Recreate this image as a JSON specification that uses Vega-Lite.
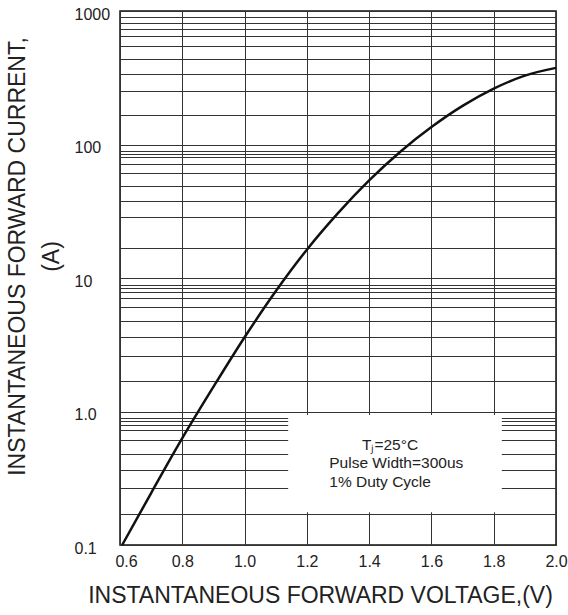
{
  "$schema": "https://vega.github.io/schema/vega-lite/v6.json",
  "width": 436,
  "height": 534,
  "autosize": {"type": "none"},
  "padding": {"left": 120, "top": 11, "right": 12, "bottom": 70},
  "background": "white",
  "layer": [
    {
      "data": {"values": [{"note": "test conditions"}]},
      "mark": {"type": "rect", "fill": "white", "stroke": null},
      "encoding": {
        "x": {"datum": 1.14, "type": "quantitative"},
        "x2": {"datum": 1.826},
        "y": {"datum": 0.176, "type": "quantitative"},
        "y2": {"datum": 0.94}
      }
    },
    {
      "data": {
        "values": [
          {"voltage": 0.607, "current": 0.1},
          {"voltage": 0.7, "current": 0.245},
          {"voltage": 0.8, "current": 0.631},
          {"voltage": 0.9, "current": 1.53},
          {"voltage": 1.0, "current": 3.6},
          {"voltage": 1.1, "current": 7.96},
          {"voltage": 1.2, "current": 16.3},
          {"voltage": 1.3, "current": 30.6},
          {"voltage": 1.4, "current": 53.8},
          {"voltage": 1.5, "current": 88.3},
          {"voltage": 1.6, "current": 135},
          {"voltage": 1.7, "current": 194.5},
          {"voltage": 1.8, "current": 262},
          {"voltage": 1.9, "current": 328},
          {"voltage": 2.0, "current": 375}
        ]
      },
      "mark": {"type": "line", "interpolate": "monotone", "color": "#111", "strokeWidth": 2.5},
      "encoding": {
        "x": {
          "field": "voltage",
          "type": "quantitative",
          "scale": {"domain": [0.6, 2.0], "nice": false, "zero": false},
          "axis": {
            "values": [0.6, 0.8, 1.0, 1.2, 1.4, 1.6, 1.8, 2.0],
            "format": ".1f",
            "labelFlush": false,
            "labelOffset": {"condition": {"test": "datum.value < 0.65", "value": 6}, "value": 0},
            "title": "INSTANTANEOUS FORWARD VOLTAGE,(V)",
            "titleX": 200,
            "titleY": 57,
            "titleAlign": "center",
            "titleBaseline": "alphabetic"
          }
        },
        "y": {
          "field": "current",
          "type": "quantitative",
          "scale": {"type": "log", "domain": [0.1, 1000], "nice": false},
          "axis": {
            "values": [
              0.1, 0.172, 0.268, 0.366, 0.478, 0.612, 0.723, 0.798, 0.853, 0.9,
              1, 1.69, 2.6, 3.61, 4.76, 6.04, 7.1, 7.89, 8.38, 8.87,
              10, 16.7, 28.5, 37.9, 49, 61.2, 71.1, 80, 84.5, 89.3,
              100, 166.7, 251, 340, 437.5, 551, 653, 730, 807, 904, 1000
            ],
            "labelExpr": "datum.value == 0.1 ? '0.1' : datum.value == 1 ? '1.0' : datum.value == 10 ? '10' : datum.value == 100 ? '100' : datum.value == 1000 ? '1000' : ''",
            "labelAlign": "left",
            "labelBaseline": "middle",
            "labelPadding": 46,
            "labelOffset": 3,
            "title": ["INSTANTANEOUS FORWARD CURRENT,", "(A)"],
            "titleX": -114,
            "titleY": 245,
            "titleAlign": "center",
            "titleBaseline": "top",
            "titleLineHeight": 34
          }
        }
      }
    },
    {
      "data": {"values": [{"note": "Tⱼ=25°C"}]},
      "mark": {"type": "text", "align": "center", "baseline": "middle", "fontSize": 15.5, "fontWeight": 400, "color": "#222"},
      "encoding": {
        "x": {"datum": 1.467, "type": "quantitative"},
        "y": {"datum": 0.561, "type": "quantitative"},
        "text": {"field": "note"}
      }
    },
    {
      "data": {"values": [{"note": "Pulse Width=300us"}]},
      "mark": {"type": "text", "align": "left", "baseline": "middle", "fontSize": 15.5, "fontWeight": 400, "color": "#222"},
      "encoding": {
        "x": {"datum": 1.272, "type": "quantitative"},
        "y": {"datum": 0.409, "type": "quantitative"},
        "text": {"field": "note"}
      }
    },
    {
      "data": {"values": [{"note": "1% Duty Cycle"}]},
      "mark": {"type": "text", "align": "left", "baseline": "middle", "fontSize": 15.5, "fontWeight": 400, "color": "#222"},
      "encoding": {
        "x": {"datum": 1.272, "type": "quantitative"},
        "y": {"datum": 0.298, "type": "quantitative"},
        "text": {"field": "note"}
      }
    }
  ],
  "config": {
    "font": "Liberation Sans",
    "view": {"stroke": "#111", "strokeWidth": 1.5},
    "axis": {
      "grid": true,
      "gridColor": "#333",
      "gridWidth": 1,
      "gridOpacity": 1,
      "ticks": false,
      "tickSize": 0,
      "domain": false,
      "labelFont": "Liberation Sans",
      "labelFontSize": 16,
      "labelColor": "#222",
      "labelPadding": 8,
      "titleFont": "Liberation Sans",
      "titleFontSize": 23,
      "titleFontWeight": "normal",
      "titleColor": "#222"
    }
  }
}
